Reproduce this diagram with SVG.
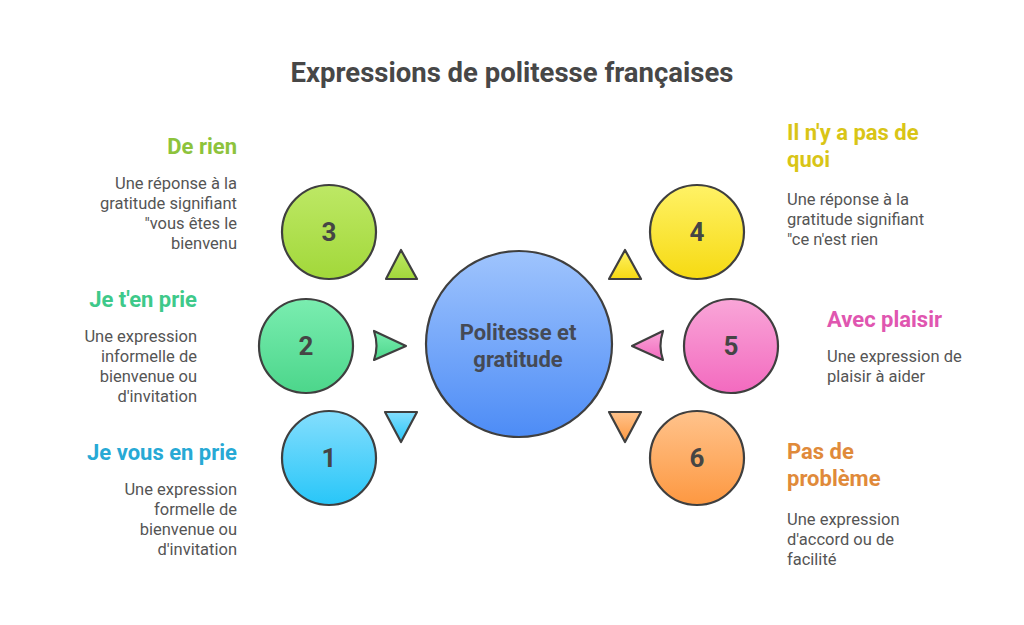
<svg xmlns="http://www.w3.org/2000/svg" width="1024" height="625" viewBox="0 0 1024 625">
<defs>
<linearGradient id="gBlue" x1="0" y1="0" x2="0" y2="1"><stop offset="0" stop-color="#9fc4fd"/><stop offset="1" stop-color="#4d8cf6"/></linearGradient>
<linearGradient id="gLime" x1="0" y1="0" x2="0" y2="1"><stop offset="0" stop-color="#bde865"/><stop offset="1" stop-color="#a2d83a"/></linearGradient>
<linearGradient id="gGreen" x1="0" y1="0" x2="0" y2="1"><stop offset="0" stop-color="#7aedb0"/><stop offset="1" stop-color="#4cd68b"/></linearGradient>
<linearGradient id="gCyan" x1="0" y1="0" x2="0" y2="1"><stop offset="0" stop-color="#84defd"/><stop offset="1" stop-color="#28c6f8"/></linearGradient>
<linearGradient id="gYellow" x1="0" y1="0" x2="0" y2="1"><stop offset="0" stop-color="#fff266"/><stop offset="1" stop-color="#f6da12"/></linearGradient>
<linearGradient id="gPink" x1="0" y1="0" x2="0" y2="1"><stop offset="0" stop-color="#f9a6d8"/><stop offset="1" stop-color="#f36abf"/></linearGradient>
<linearGradient id="gOrange" x1="0" y1="0" x2="0" y2="1"><stop offset="0" stop-color="#ffc38c"/><stop offset="1" stop-color="#fd9841"/></linearGradient>
</defs>
<style>
.sh{stroke:#3f3f3f;stroke-width:2.2;stroke-linejoin:round}
.num{font-family:Roboto,"Liberation Sans",sans-serif;font-weight:bold;font-size:26px;fill:#454545;text-anchor:middle}
.ttl{font-family:Roboto,"Liberation Sans",sans-serif;font-weight:bold;font-size:22px}
.desc{font-family:Roboto,"Liberation Sans",sans-serif;font-size:16.5px;fill:#555555}
.r{text-anchor:end}
</style>
<rect width="1024" height="625" fill="#ffffff"/>
<text x="512" y="82" text-anchor="middle" font-family="Roboto,'Liberation Sans',sans-serif" font-weight="bold" font-size="27.5" fill="#474747">Expressions de politesse françaises</text>

<g id="connectors">
<path class="sh" fill="url(#gLime)" d="M401,250 L417,279 L386,279 Z"/>
<path class="sh" fill="url(#gGreen)" d="M374,331 Q379,346 374,360 L406,346 Z"/>
<path class="sh" fill="url(#gCyan)" d="M385,412 L417,412 L401,442 Z"/>
<path class="sh" fill="url(#gYellow)" d="M625,250 L641,279 L609,279 Z"/>
<path class="sh" fill="url(#gPink)" d="M663,331 Q658,346 663,360 L632,346 Z"/>
<path class="sh" fill="url(#gOrange)" d="M609,412 L641,412 L625,442 Z"/>
</g>

<g id="center">
<circle class="sh" cx="519" cy="344" r="93" fill="url(#gBlue)"/>
<text class="ttl" x="518" y="340" text-anchor="middle" fill="#454a55">Politesse et</text>
<text class="ttl" x="518" y="367" text-anchor="middle" fill="#454a55">gratitude</text>
</g>

<g id="node3">
<circle class="sh" cx="329" cy="232" r="47" fill="url(#gLime)"/>
<text class="num" x="329" y="241">3</text>
<text class="ttl r" x="237" y="154" fill="#8dc33c">De rien</text>
<text class="desc r" x="237" y="189">Une réponse à la</text>
<text class="desc r" x="237" y="209">gratitude signifiant</text>
<text class="desc r" x="237" y="229">"vous êtes le</text>
<text class="desc r" x="237" y="249">bienvenu</text>
</g>

<g id="node2">
<circle class="sh" cx="306" cy="346" r="47" fill="url(#gGreen)"/>
<text class="num" x="306" y="355">2</text>
<text class="ttl r" x="197" y="307" fill="#3ec98a">Je t'en prie</text>
<text class="desc r" x="197" y="342">Une expression</text>
<text class="desc r" x="197" y="362">informelle de</text>
<text class="desc r" x="197" y="382">bienvenue ou</text>
<text class="desc r" x="197" y="402">d'invitation</text>
</g>

<g id="node1">
<circle class="sh" cx="329" cy="458" r="47" fill="url(#gCyan)"/>
<text class="num" x="329" y="467">1</text>
<text class="ttl r" x="237" y="460" fill="#27a9d5">Je vous en prie</text>
<text class="desc r" x="237" y="495">Une expression</text>
<text class="desc r" x="237" y="515">formelle de</text>
<text class="desc r" x="237" y="535">bienvenue ou</text>
<text class="desc r" x="237" y="555">d'invitation</text>
</g>

<g id="node4">
<circle class="sh" cx="697" cy="232" r="47" fill="url(#gYellow)"/>
<text class="num" x="697" y="241">4</text>
<text class="ttl" x="787" y="140" fill="#d9c516">Il n'y a pas de</text>
<text class="ttl" x="787" y="167" fill="#d9c516">quoi</text>
<text class="desc" x="787" y="205">Une réponse à la</text>
<text class="desc" x="787" y="225">gratitude signifiant</text>
<text class="desc" x="787" y="245">"ce n'est rien</text>
</g>

<g id="node5">
<circle class="sh" cx="731" cy="346" r="47" fill="url(#gPink)"/>
<text class="num" x="731" y="355">5</text>
<text class="ttl" x="827" y="327" fill="#e056b0">Avec plaisir</text>
<text class="desc" x="827" y="362">Une expression de</text>
<text class="desc" x="827" y="382">plaisir à aider</text>
</g>

<g id="node6">
<circle class="sh" cx="697" cy="458" r="47" fill="url(#gOrange)"/>
<text class="num" x="697" y="467">6</text>
<text class="ttl" x="787" y="459" fill="#e08a3a">Pas de</text>
<text class="ttl" x="787" y="486" fill="#e08a3a">problème</text>
<text class="desc" x="787" y="525">Une expression</text>
<text class="desc" x="787" y="545">d'accord ou de</text>
<text class="desc" x="787" y="565">facilité</text>
</g>
</svg>
